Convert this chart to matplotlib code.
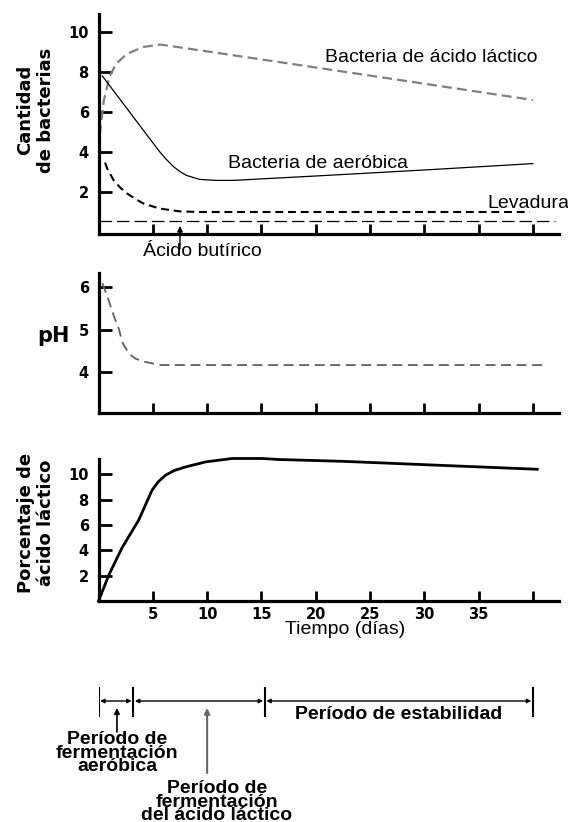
import matplotlib.pyplot as plt

# datos (dias, valores)
dias_lac = [0, 0.2, 0.5, 1.0, 1.6, 2.6, 4.1, 5.7, 7.5, 10, 16.6, 25, 33, 40]
bact_lactica = [4.1, 5.3, 6.6, 7.75, 8.4, 8.9, 9.25, 9.37, 9.23, 9.03, 8.5, 7.82, 7.17, 6.6]

dias_aer = [0.35, 2, 4, 5.65, 6.3, 6.9, 7.5, 8.1, 9.3, 10.8, 12.4, 20, 30, 40]
bact_aerobica = [7.8, 6.62, 5.18, 4.0, 3.6, 3.27, 3.02, 2.83, 2.63, 2.58, 2.58, 2.8, 3.1, 3.42]

dias_lev = [0.6, 0.8, 1.4, 2.0, 2.65, 3.4, 4.15, 5.65, 7.5, 9.3, 20, 30, 39.7]
levadura = [3.47, 3.17, 2.58, 2.22, 1.92, 1.65, 1.42, 1.17, 1.03, 1.0, 1.0, 1.0, 1.0]

dias_but = [0, 42]
acido_butirico = [0.53, 0.53]

dias_ph = [0.35, 0.8, 1.45, 1.9, 2.2, 2.8, 3.4, 4.2, 5.7, 20, 41.3]
ph = [6.1, 5.8, 5.3, 5.0, 4.7, 4.44, 4.32, 4.25, 4.17, 4.17, 4.17]

dias_ac = [0, 0.95, 2.17, 3.7, 4.93, 5.5, 6.17, 7.0, 8.0, 9.85, 12.3, 15.1, 16.6, 22.4, 29.8, 40.4]
acido_lactico = [0, 2.05, 4.2, 6.38, 8.74, 9.4, 9.92, 10.3, 10.57, 10.97, 11.24, 11.24, 11.16,
                 11.02, 10.76, 10.39]

ticks_dias = [5, 10, 15, 20, 25, 30, 35, 40]
etiquetas_dias = ['5', '10', '15', '20', '25', '30', '35', '']

# limites de los periodos (dias)
periodos = [0, 3.2, 15.3, 40]

plt.rcParams['font.family'] = ['Liberation Sans', 'DejaVu Sans']

W, H = 568, 822
fig = plt.figure(figsize=(W / 100, H / 100), dpi=100)
L = 98.5 / W
AW = (559 - 98.5) / W


def ejes(top, bottom):
    return fig.add_axes([L, 1 - bottom / H, AW, (bottom - top) / H])


def estilo(ax, yticks, ylim, xlabels):
    ax.set_xlim(0, 42.4)
    ax.set_ylim(*ylim)
    for s in ['top', 'right']:
        ax.spines[s].set_visible(False)
    for s in ['left', 'bottom']:
        ax.spines[s].set_linewidth(2.3)
    ax.tick_params(axis='both', direction='in', width=2, color='black')
    ax.tick_params(axis='y', length=9, pad=7)
    ax.tick_params(axis='x', length=7.5, pad=4)
    ax.set_xticks(ticks_dias)
    ax.set_xticklabels(xlabels, family='DejaVu Sans', fontweight='bold', fontsize=10.5)
    ax.set_yticks(yticks)
    ax.set_yticklabels([str(v) for v in yticks], family='DejaVu Sans',
                       fontweight='bold', fontsize=10.5)


# Panel 1: cantidad de bacterias
ax1 = ejes(14, 234)
estilo(ax1, [2, 4, 6, 8, 10], (-0.1, 10.9), [''] * len(ticks_dias))
ax1.plot(dias_lac, bact_lactica, color='#808080', lw=1.6, ls=(0, (4.5, 2.3)))
ax1.plot(dias_aer, bact_aerobica, color='black', lw=0.9)
ax1.plot(dias_lev, levadura, color='black', lw=1.5, ls=(0, (3.8, 2.3)))
ax1.plot(dias_but, acido_butirico, color='black', lw=0.9, ls=(0, (10, 4)))
ax1.text(20.9, 8.74, 'Bacteria de ácido láctico', fontsize=14, va='center')
ax1.text(11.95, 3.43, 'Bacteria de aeróbica', fontsize=14, va='center')
ax1.text(35.8, 1.43, 'Levadura', fontsize=14, va='center')
ax1.text(9.6, -1.0, 'Ácido butírico', fontsize=14, ha='center', va='center')
ax1.annotate('', xy=(7.5, 0.3), xytext=(7.5, -0.85), annotation_clip=False,
             arrowprops=dict(arrowstyle='-|>', color='black', lw=1,
                             mutation_scale=8, shrinkA=0, shrinkB=0))

# Panel 2: pH
ax2 = ejes(273, 413)
estilo(ax2, [4, 5, 6], (3.04, 6.34), [''] * len(ticks_dias))
ax2.plot(dias_ph, ph, color='#606060', lw=1.3, ls=(0, (5.5, 3.1)))

# Panel 3: porcentaje de acido lactico
ax3 = ejes(459, 601)
estilo(ax3, [2, 4, 6, 8, 10], (0, 11.2), etiquetas_dias)
ax3.plot(dias_ac, acido_lactico, color='black', lw=2, clip_on=False)

fig.text(345.5 / W, 1 - 630 / H, 'Tiempo (días)', fontsize=14, ha='center', va='center')

# etiquetas de los ejes y
fig.text(36 / W, 1 - 110 / H, 'Cantidad\nde bacterias', rotation=90, family='DejaVu Sans',
         fontweight='bold', fontsize=13, ha='center', va='center')
fig.text(53.5 / W, 1 - 336 / H, 'pH', family='DejaVu Sans', fontweight='bold',
         fontsize=15, ha='center', va='center')
fig.text(36 / W, 1 - 523 / H, 'Porcentaje de\nácido láctico', rotation=90,
         family='DejaVu Sans', fontweight='bold', fontsize=13, ha='center', va='center')

# Periodos
ax4 = fig.add_axes([L, 0, AW, 162 / H])
ax4.set_xlim(0, 42.4)
ax4.set_ylim(822, 660)
ax4.axis('off')
ax4.vlines(periodos, 686.7, 716.7, color='black', lw=1.5)
for a, b in zip(periodos[:-1], periodos[1:]):
    ax4.annotate('', xy=(b - 0.15, 701), xytext=(a + 0.15, 701),
                 arrowprops=dict(arrowstyle='<|-|>', color='black', lw=1,
                                 mutation_scale=6, shrinkA=0, shrinkB=0))

ax4.text((periodos[2] + periodos[3]) / 2, 714, 'Período de estabilidad', fontsize=14,
         fontweight='bold', ha='center', va='center')

ax4.annotate('', xy=(1.7, 708), xytext=(1.7, 732),
             arrowprops=dict(arrowstyle='-|>', color='black', lw=1.2,
                             mutation_scale=8, shrinkA=0, shrinkB=0))
ax4.text(1.7, 753, 'Período de\nfermentación\naeróbica', fontsize=14, fontweight='bold',
         ha='center', va='center', linespacing=0.72)

ax4.annotate('', xy=(10.0, 708), xytext=(10.0, 773),
             arrowprops=dict(arrowstyle='-|>', color='#666666', lw=1.5,
                             mutation_scale=8, shrinkA=0, shrinkB=0))
ax4.text(10.9, 802, 'Período de\nfermentación\ndel ácido láctico', fontsize=14,
         fontweight='bold', ha='center', va='center', linespacing=0.72)

fig.savefig('out.png', dpi=100)
